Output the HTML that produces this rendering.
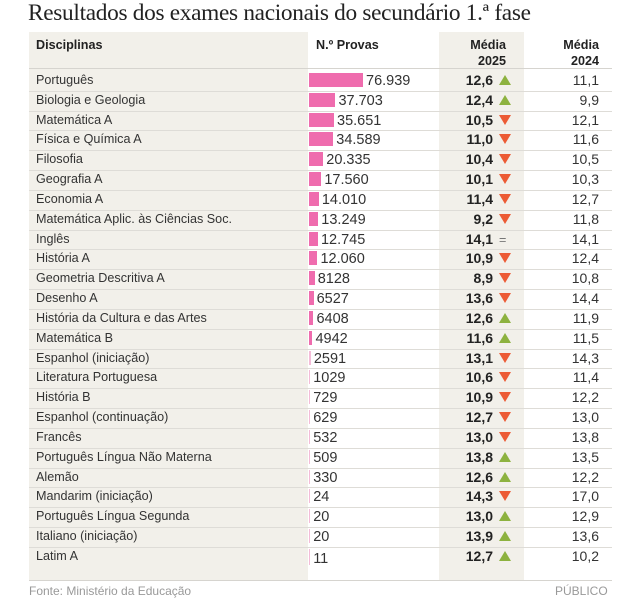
<!DOCTYPE html>
<html><head><meta charset="utf-8"><style>
body{margin:0;width:640px;height:606px;background:#fff;overflow:hidden;font-family:"Liberation Sans",sans-serif;}
#title{position:absolute;left:28px;top:0px;font-family:"Liberation Serif",serif;font-size:23.3px;color:#222;letter-spacing:-0.3px;white-space:nowrap}
.abs{position:absolute}
.t{position:absolute;font-size:12.6px;color:#333;white-space:nowrap;line-height:14px}
.hd{position:absolute;font-size:12.6px;color:#222;font-weight:bold;line-height:16px;white-space:nowrap}
</style></head><body>
<div id="title">Resultados dos exames nacionais do secundário 1.ª fase</div>
<div class="abs" style="left:29px;top:32px;width:279px;height:548px;background:#f2f0ea"></div>
<div class="abs" style="left:439px;top:32px;width:85px;height:548px;background:#f2f0ea"></div>
<div class="hd" style="left:36px;top:37px">Disciplinas</div>
<div class="hd" style="left:316px;top:37px">N.º Provas</div>
<div class="hd" style="left:439px;width:67px;text-align:right;top:37px">Média<br>2025</div>
<div class="hd" style="left:524px;width:75px;text-align:right;top:37px">Média<br>2024</div>
<div class="abs" style="left:29px;top:68px;width:583px;height:1px;background:#d6d4cf"></div>
<div class="abs" style="left:29px;top:580px;width:583px;height:1px;background:#d6d4cf"></div>
<div class="t" style="left:29px;top:584px;color:#999;font-size:12px">Fonte: Ministério da Educação</div>
<div class="t" style="left:555px;top:584px;color:#999;font-size:12px">PÚBLICO</div>
<div id="rows"></div>
<script>
const subjects=["Português","Biologia e Geologia","Matemática A","Física e Química A","Filosofia","Geografia A","Economia A","Matemática Aplic. às Ciências Soc.","Inglês","História A","Geometria Descritiva A","Desenho A","História da Cultura e das Artes","Matemática B","Espanhol (iniciação)","Literatura Portuguesa","História B","Espanhol (continuação)","Francês","Português Língua Não Materna","Alemão","Mandarim (iniciação)","Português Língua Segunda","Italiano (iniciação)","Latim A"];
const provas=[76939,37703,35651,34589,20335,17560,14010,13249,12745,12060,8128,6527,6408,4942,2591,1029,729,629,532,509,330,24,20,20,11];
const media2025=[12.6,12.4,10.5,11.0,10.4,10.1,11.4,9.2,14.1,10.9,8.9,13.6,12.6,11.6,13.1,10.6,10.9,12.7,13.0,13.8,12.6,14.3,13.0,13.9,12.7];
const media2024=[11.1,9.9,12.1,11.6,10.5,10.3,12.7,11.8,14.1,12.4,10.8,14.4,11.9,11.5,14.3,11.4,12.2,13.0,13.8,13.5,12.2,17.0,12.9,13.6,10.2];
const rows=document.getElementById('rows');
const fmt=v=>{const s=String(v);return v>=10000?s.slice(0,-3)+'.'+s.slice(-3):s;};
const dec=v=>v.toFixed(1).replace('.',',');
const x0=309, sc=54/76939, y0=72, rh=19.83;
subjects.forEach((s,i)=>{
  const y=y0+i*rh;
  const add=(html,style,name)=>{const d=document.createElement('div');d.className='t';d.style.cssText=style;d.innerHTML=html;
    
    
    rows.appendChild(d);return d;};
  add(s,`left:36px;top:${y+1}px`,'subject-label');
  const w=Math.max(1.2,provas[i]*sc);
  const b=document.createElement('div');b.className='abs';
  b.style.cssText=`left:${x0}px;top:${y+1}px;width:${w}px;height:${i==24?16:14}px;background:${w<2?'#f4bcd8':'#ef6cae'}`;
  
  
  rows.appendChild(b);
  add(fmt(provas[i]),`left:${x0+w+3}px;top:${y+(i==24?4:2)}px;font-size:14.5px;color:#333`,'provas-value');
  add(dec(media2025[i]),`left:439px;width:54px;text-align:right;top:${y+1}px;font-weight:bold;font-size:14px;color:#222`,'media-2025-value');
  const d=media2025[i]-media2024[i];
  const ic=d>0?`<svg width="12" height="10"><polygon points="0,10 12,10 6,0" fill="#8db23f"/></svg>`:d<0?`<svg width="12" height="10"><polygon points="0,0 12,0 6,10" fill="#ec5b35"/></svg>`:`<span style="color:#777">=</span>`;
  add(ic,`left:499px;top:${y+2}px`,'change-indicator');
  add(dec(media2024[i]),`left:524px;width:75px;text-align:right;top:${y+1}px;font-size:14px;color:#333`,'media-2024-value');
  if(i<24){const l=document.createElement('div');l.className='abs';l.style.cssText=`left:29px;top:${y+rh-1}px;width:583px;height:1px;background:#dedcd7`;
    
    
    rows.appendChild(l);}
});
</script>
</body></html>
